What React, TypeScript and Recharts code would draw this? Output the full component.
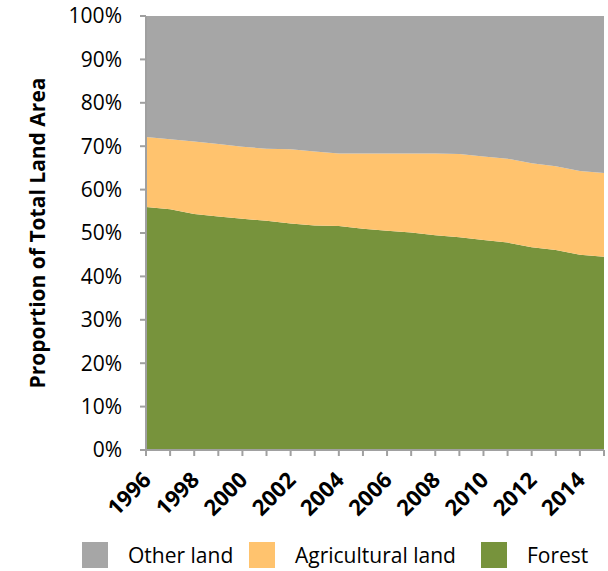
import { Area, AreaChart, XAxis, YAxis } from 'recharts';

const years = [
  1996, 1997, 1998, 1999, 2000, 2001, 2002, 2003, 2004, 2005,
  2006, 2007, 2008, 2009, 2010, 2011, 2012, 2013, 2014, 2015,
];
const forest = [
  56.0, 55.5, 54.4, 53.8, 53.3, 52.8, 52.2, 51.7, 51.6, 51.0,
  50.5, 50.1, 49.5, 49.0, 48.4, 47.8, 46.7, 46.1, 45.0, 44.5,
];
const agriculturalTop = [
  72.1, 71.6, 71.1, 70.5, 69.9, 69.4, 69.3, 68.8, 68.3, 68.3,
  68.3, 68.3, 68.3, 68.2, 67.6, 67.1, 66.1, 65.4, 64.3, 63.8,
];
const yTicks = [0, 10, 20, 30, 40, 50, 60, 70, 80, 90, 100];

const series = [
  { key: 'other', name: 'Other land', color: '#A6A6A6', left: 82 },
  { key: 'agricultural', name: 'Agricultural land', color: '#FFC36E', left: 249 },
  { key: 'forest', name: 'Forest', color: '#77933C', left: 481 },
];

const data = years.map((year, i) => ({
  year,
  forest: forest[i],
  agricultural: +(agriculturalTop[i] - forest[i]).toFixed(1),
  other: +(100 - agriculturalTop[i]).toFixed(1),
}));

const FONT = '"Open Sans", "Noto Sans", sans-serif';

function YearTick(props: any) {
  const { x, y, payload, index } = props;
  if (index % 2 !== 0) return null;
  return (
    <g transform={`translate(${x + 1},${y + 18})`}>
      <text
        x={0}
        y={0}
        dy="0.35em"
        textAnchor="end"
        transform="rotate(-45)"
        fontFamily={FONT}
        fontWeight="bold"
        fontSize={22}
        fill="#000"
      >
        {payload.value}
      </text>
    </g>
  );
}

function AxisTitle() {
  return (
    <text
      x={37}
      y={233}
      transform="rotate(-90, 37, 233)"
      textAnchor="middle"
      dominantBaseline="central"
      fontFamily={FONT}
      fontWeight="bold"
      fontSize={21}
      fill="#000"
    >
      Proportion of Total Land Area
    </text>
  );
}

export default function App() {
  return (
    <div
      style={{
        position: 'absolute',
        left: 0,
        top: 0,
        width: 608,
        height: 571,
        background: '#fff',
        fontFamily: FONT,
      }}
    >
      <AreaChart
        width={608}
        height={571}
        data={data}
        margin={{ top: 16, right: 4, left: 0, bottom: 0 }}
      >
        <XAxis
          dataKey="year"
          interval={0}
          axisLine={{ stroke: '#A0A0A0', strokeWidth: 2 }}
          tickLine={{ stroke: '#A0A0A0', strokeWidth: 2 }}
          tickSize={6}
          tick={<YearTick />}
          height={121}
        />
        <YAxis
          domain={[0, 100]}
          ticks={yTicks}
          width={146}
          axisLine={{ stroke: '#A0A0A0', strokeWidth: 2 }}
          tickLine={{ stroke: '#A0A0A0', strokeWidth: 2 }}
          tickSize={6}
          tickMargin={18}
          tickFormatter={(v: number) => `${v}%`}
          tick={{ fill: '#000', fontSize: 21, fontFamily: FONT }}
          label={<AxisTitle />}
        />
        <Area
          dataKey="forest"
          name="Forest"
          stackId="1"
          type="linear"
          stroke="none"
          fill="#77933C"
          fillOpacity={1}
          isAnimationActive={false}
        />
        <Area
          dataKey="agricultural"
          name="Agricultural land"
          stackId="1"
          type="linear"
          stroke="none"
          fill="#FFC36E"
          fillOpacity={1}
          isAnimationActive={false}
        />
        <Area
          dataKey="other"
          name="Other land"
          stackId="1"
          type="linear"
          stroke="none"
          fill="#A6A6A6"
          fillOpacity={1}
          isAnimationActive={false}
        />
      </AreaChart>
      {series.map((s) => (
        <div
          key={s.key}
          style={{
            position: 'absolute',
            top: 542,
            left: s.left,
            height: 26,
            display: 'flex',
            alignItems: 'center',
            fontSize: 21,
            color: '#000',
            whiteSpace: 'nowrap',
          }}
        >
          <span
            style={{
              display: 'inline-block',
              width: 26,
              height: 26,
              background: s.color,
              marginRight: 20,
            }}
          />
          <span>{s.name}</span>
        </div>
      ))}
    </div>
  );
}
